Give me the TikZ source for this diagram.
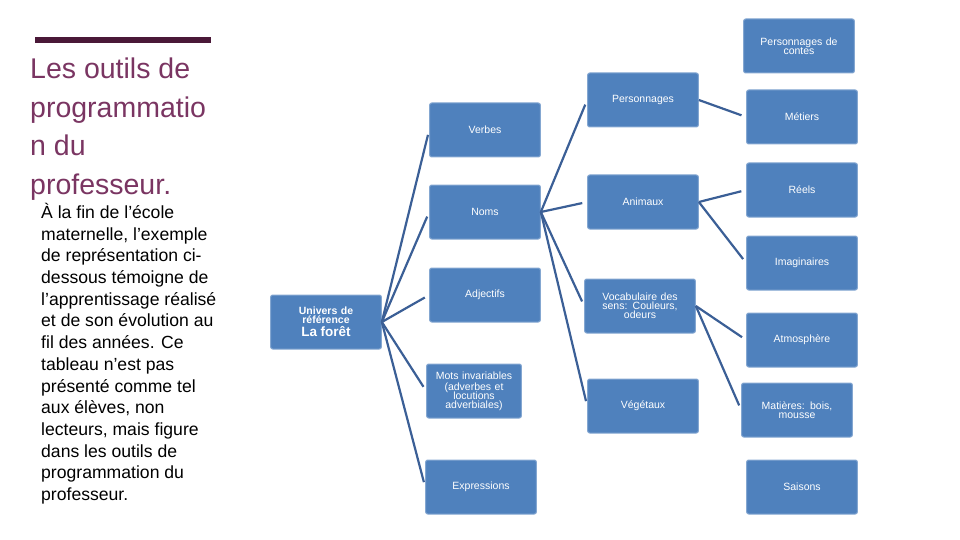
\documentclass[tikz,border=0pt]{standalone}
\usepackage{fontspec}
\setmainfont{Liberation Sans}
\definecolor{boxblue}{HTML}{4F81BD}
\definecolor{linkblue}{HTML}{3B5F96}
\definecolor{plum}{HTML}{7A3562}
\definecolor{darkplum}{HTML}{4A1838}
\tikzset{
  cat/.style={draw=boxblue!70!white,line width=1pt,fill=boxblue,rounded corners=2pt,
    minimum width=108pt,minimum height=54pt,text width=104pt,align=center,
    text=white,font=\fontsize{10.5}{11}\selectfont},
  link/.style={draw=linkblue,line width=2.2pt,shorten >=5pt}
}
\begin{document}
\begin{tikzpicture}[x=1pt,y=-1pt]
    \useasboundingbox (0,0) rectangle (960,540);
    \fill[darkplum] (35,37) rectangle (211,43);
    \node[anchor=north west,inner sep=0pt,text=plum,align=left,
      font=\fontsize{28.5}{38.5}\selectfont] (title) at (30,58)
      {Les outils de\\programmatio\\n du\\professeur.};
    \node[anchor=north west,inner sep=0pt,align=left,
      font=\fontsize{17.6}{21.7}\selectfont] (body) at (41,203)
      {À la fin de l’école\\maternelle, l’exemple\\de représentation ci-\\dessous témoigne de\\l’apprentissage réalisé\\et de son évolution au\\fil des années. Ce\\tableau n’est pas\\présenté comme tel\\aux élèves, non\\lecteurs, mais figure\\dans les outils de\\programmation du\\professeur.};
    % root
    \node[cat] (univ) at (326,322) {{\bfseries Univers de\\[-2pt] référence}\\[2pt]{\fontsize{13.5}{15}\selectfont\bfseries La forêt}};
    % first level
    \node[cat] (verbes) at (485,130) {Verbes};
    \node[cat] (noms) at (485,212) {Noms};
    \node[cat] (adj) at (485,295) {Adjectifs};
    \node[cat,minimum width=88pt,text width=88pt] (mots) at (474,391) {Mots invariables\\(adverbes et\\[-2pt] locutions\\[-2pt] adverbiales)};
    \node[cat] (expr) at (481,487) {Expressions};
    % second level
    \node[cat] (perso) at (643,100) {Personnages};
    \node[cat] (anim) at (643,202) {Animaux};
    \node[cat] (voca) at (640,306) {Vocabulaire des\\[-2pt] sens: Couleurs,\\[-2pt] odeurs};
    \node[cat] (veget) at (643,406) {Végétaux};
    % third level
    \node[cat] (contes) at (799,46) {Personnages de\\[-2pt] contes};
    \node[cat] (metiers) at (802,117) {Métiers};
    \node[cat] (reels) at (802,190) {Réels};
    \node[cat] (imag) at (802,263) {Imaginaires};
    \node[cat] (atmo) at (802,340) {Atmosphère};
    \node[cat] (matieres) at (797,410) {Matières: bois,\\[-2pt] mousse};
    \node[cat] (saisons) at (802,487) {Saisons};
    % links
    \foreach \t in {verbes,noms,adj,mots,expr}
      \draw[link] (univ.east) -- (\t.west);
    \foreach \t in {perso,anim,voca,veget}
      \draw[link] (noms.east) -- (\t.west);
    \draw[link] (perso.east) -- (metiers.west);
    \foreach \t in {reels,imag}
      \draw[link] (anim.east) -- (\t.west);
    \foreach \t in {atmo,matieres}
      \draw[link] (voca.east) -- (\t.west);
\end{tikzpicture}
\end{document}
